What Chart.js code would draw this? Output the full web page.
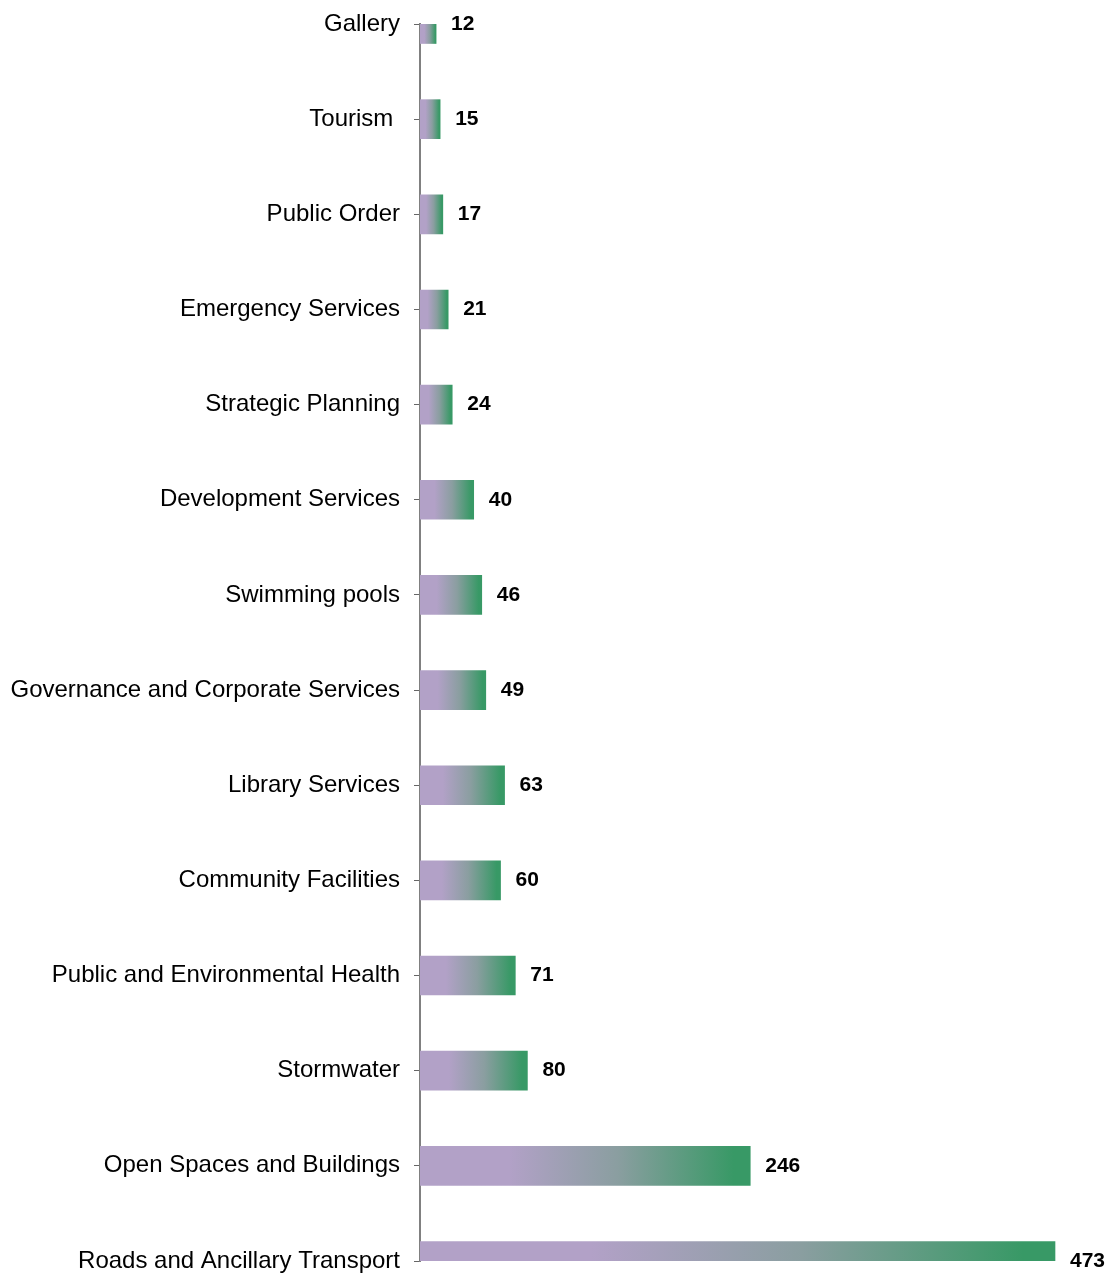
<!DOCTYPE html>
<html>
<head>
<meta charset="utf-8">
<script src="https://cdn.jsdelivr.net/npm/chart.js@4/dist/chart.umd.min.js"></script>
<style>
  html, body { margin: 0; padding: 0; background: #fff; }
  #wrap { width: 1112px; height: 1273px; position: relative; }
</style>
</head>
<body>
<div id="wrap"><canvas id="c"></canvas></div>
<script>
const categories = [
  "Gallery", "Tourism ", "Public Order", "Emergency Services", "Strategic Planning",
  "Development Services", "Swimming pools", "Governance and Corporate Services",
  "Library Services", "Community Facilities", "Public and Environmental Health",
  "Stormwater", "Open Spaces and Buildings", "Roads and Ancillary Transport"
];
const values = [12, 15, 17, 21, 24, 40, 46, 49, 63, 60, 71, 80, 246, 473];

const FONT = "'Liberation Sans', Arial, sans-serif";

function barGradient(ctx) {
  const chart = ctx.chart;
  if (!chart.chartArea || ctx.type !== 'data') return '#b2a1c7';
  const xs = chart.scales.x;
  const x0 = xs.getPixelForValue(0);
  const x1 = xs.getPixelForValue(ctx.raw);
  const g = chart.ctx.createLinearGradient(x0, 0, Math.max(x1, x0 + 1), 0);
  g.addColorStop(0, '#b2a1c7');
  g.addColorStop(0.27, '#b2a1c7');
  g.addColorStop(0.6, '#8a9ea0');
  g.addColorStop(0.95, '#389966');
  g.addColorStop(1, '#389966');
  return g;
}

const valueLabels = {
  id: 'valueLabels',
  afterDatasetsDraw(chart) {
    const c = chart.ctx;
    const meta = chart.getDatasetMeta(0);
    c.save();
    c.font = "bold 21px " + FONT;
    c.fillStyle = '#000';
    c.textAlign = 'left';
    c.textBaseline = 'middle';
    meta.data.forEach((bar, i) => {
      c.fillText(String(values[i]), bar.x + 15, bar.y);
    });
    c.restore();
  }
};

new Chart(document.getElementById('c'), {
  type: 'bar',
  data: {
    labels: categories,
    datasets: [{
      data: values,
      backgroundColor: barGradient,
      borderWidth: 0,
      barThickness: 39,
      clip: 0
    }]
  },
  options: {
    indexAxis: 'y',
    responsive: true,
    maintainAspectRatio: false,
    animation: false,
    layout: { padding: { top: 24, bottom: 12, right: 12, left: 0 } },
    plugins: { legend: { display: false }, tooltip: { enabled: false } },
    scales: {
      x: {
        display: false,
        min: 0,
        max: 473 * 680 / 635
      },
      y: {
        offset: false,
        z: 1,
        afterFit(scale) {
          scale.width = 420;
          scale.paddingTop = 0;
          scale.paddingBottom = 0;
        },
        grid: {
          display: true,
          offset: false,
          drawOnChartArea: false,
          drawTicks: true,
          tickLength: 6,
          color: '#666',
          lineWidth: 1
        },
        border: { display: true, color: '#808080', width: 2 },
        ticks: {
          autoSkip: false,
          padding: 14,
          color: '#000',
          font: { family: FONT, size: 24 }
        }
      }
    }
  },
  plugins: [valueLabels]
});
</script>
</body>
</html>
